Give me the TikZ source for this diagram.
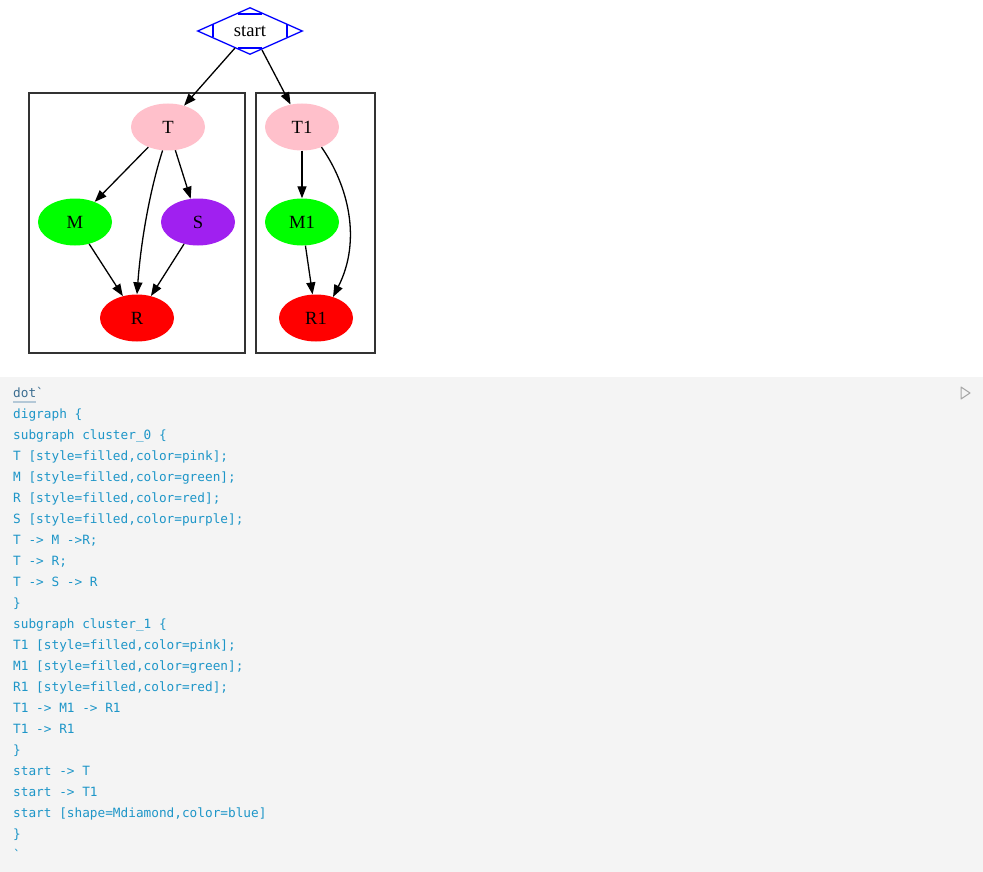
\documentclass[tikz,border=0pt]{standalone}
\usepackage{fontspec}
\setmainfont{Liberation Serif}
\newfontfamily\codefont{DejaVu Sans Mono}
\usetikzlibrary{arrows.meta,shapes.geometric}
\definecolor{codebg}{HTML}{F4F4F4}
\definecolor{codefg}{RGB}{30,150,200}
\definecolor{dotfg}{RGB}{60,110,145}
\definecolor{dotline}{RGB}{180,200,215}
\definecolor{gvpink}{HTML}{FFC0CB}
\definecolor{gvgreen}{HTML}{00FF00}
\definecolor{gvpurple}{HTML}{A020F0}
\definecolor{gvred}{HTML}{FF0000}
\definecolor{clusterline}{HTML}{333333}
\tikzset{
  gvfont/.style={font=\fontsize{18.6pt}{20pt}\selectfont},
  gvnode/.style={ellipse, minimum width=74pt, minimum height=47pt, inner sep=0pt, gvfont},
  gvedge/.style={draw=black, line width=1.3pt, -{Triangle[length=12pt,width=9pt]}},
  cluster/.style={draw=clusterline, line width=1.4pt},
  codeline/.style={anchor=base west, inner sep=0pt, text=codefg, font=\codefont\fontsize{12.75pt}{14pt}\selectfont},
}
\begin{document}
\begin{tikzpicture}[x=1pt,y=-1pt]
\useasboundingbox (0,0) rectangle (983,872);
% code background
\fill[codebg] (0,377) rectangle (983,872);
% clusters
\draw[cluster] (29,93) rectangle (245,353);
\draw[cluster] (256,93) rectangle (375,353);
% start Mdiamond
\node[diamond, draw=blue, line width=1.3pt, minimum width=105pt, minimum height=47pt, inner sep=0pt, aspect=2.2, gvfont] (start) at (250,31) {start};
\draw[blue, line width=1.3pt] (213,24.5) -- (213,37.5);
\draw[blue, line width=1.3pt] (287,24.5) -- (287,37.5);
\draw[blue, line width=1.3pt] (238,14) -- (262,14);
\draw[blue, line width=1.3pt] (238,48) -- (262,48);
% nodes
\node[gvnode, fill=gvpink] (T) at (168,127) {T};
\node[gvnode, fill=gvgreen] (M) at (75,222) {M};
\node[gvnode, fill=gvpurple] (S) at (198,222) {S};
\node[gvnode, fill=gvred] (R) at (137,318) {R};
\node[gvnode, fill=gvpink] (T1) at (302,127) {T1};
\node[gvnode, fill=gvgreen] (M1) at (302,222) {M1};
\node[gvnode, fill=gvred] (R1) at (316,318) {R1};
% edges
\coordinate (sA) at (235,48);
\coordinate (sB) at (262,50);
\draw[gvedge] (sA) -- (T.53);
\draw[gvedge] (sB) -- (T1.117);
\draw[gvedge] (T) -- (M);
\draw[gvedge] (T.-103) .. controls (150,190) and (141,240) .. (R.north);
\draw[gvedge] (T) -- (S);
\draw[gvedge] (M) -- (R);
\draw[gvedge] (S) -- (R);
\draw[gvedge] (T1) -- (M1);
\draw[gvedge] (M1) -- (R1);
\draw[gvedge] (T1.-46) .. controls (348,185) and (362,240) .. (R1.51);
% code text
\node[anchor=base west, inner sep=0pt, text=dotfg, font=\codefont\fontsize{12.75pt}{14pt}\selectfont] (l0) at (13,397) {dot`};
\draw[dotline, line width=1.5pt] (13,402) -- (36,402);
\node[codeline] (l1) at (13,418) {digraph \{};
\node[codeline] (l2) at (13,439) {subgraph cluster\_0 \{};
\node[codeline] (l3) at (13,460) {T [style=filled,color=pink];};
\node[codeline] (l4) at (13,481) {M [style=filled,color=green];};
\node[codeline] (l5) at (13,502) {R [style=filled,color=red];};
\node[codeline] (l6) at (13,523) {S [style=filled,color=purple];};
\node[codeline] (l7) at (13,544) {T -> M ->R;};
\node[codeline] (l8) at (13,565) {T -> R;};
\node[codeline] (l9) at (13,586) {T -> S -> R};
\node[codeline] (l10) at (13,607) {\}};
\node[codeline] (l11) at (13,628) {subgraph cluster\_1 \{};
\node[codeline] (l12) at (13,649) {T1 [style=filled,color=pink];};
\node[codeline] (l13) at (13,670) {M1 [style=filled,color=green];};
\node[codeline] (l14) at (13,691) {R1 [style=filled,color=red];};
\node[codeline] (l15) at (13,712) {T1 -> M1 -> R1};
\node[codeline] (l16) at (13,733) {T1 -> R1};
\node[codeline] (l17) at (13,754) {\}};
\node[codeline] (l18) at (13,775) {start -> T};
\node[codeline] (l19) at (13,796) {start -> T1};
\node[codeline] (l20) at (13,817) {start [shape=Mdiamond,color=blue]};
\node[codeline] (l21) at (13,838) {\}};
\node[codeline] (l22) at (13,859) {`};
% play icon
\draw[gray!70, line width=1pt, line join=round] (961,387) -- (970,393) -- (961,399) -- cycle;
\end{tikzpicture}
\end{document}
